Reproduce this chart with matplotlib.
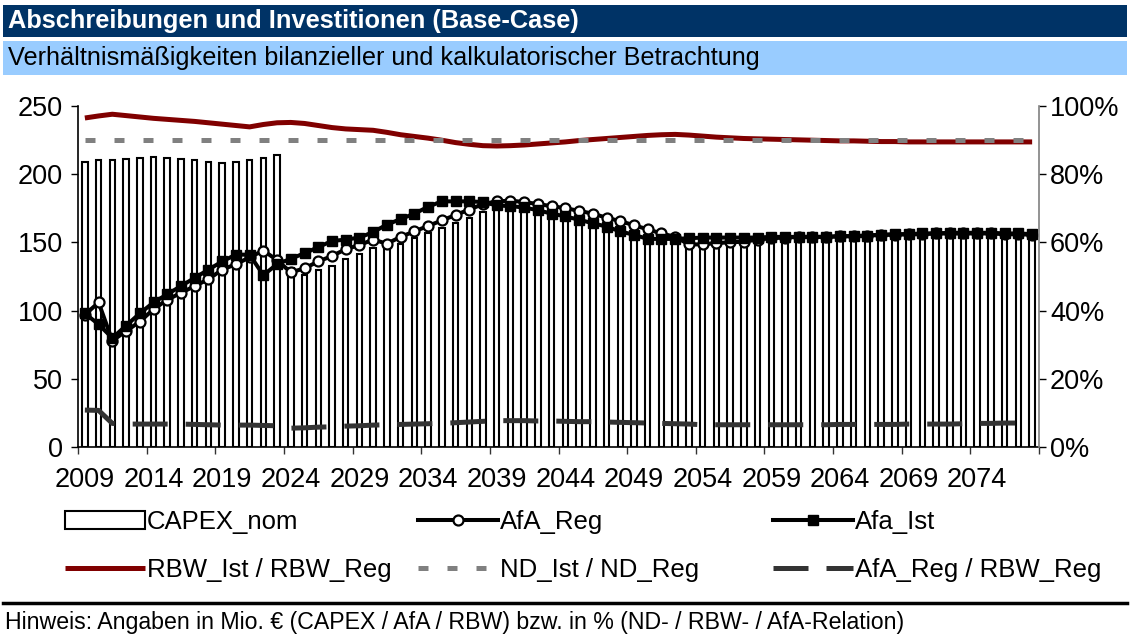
import numpy as np
import matplotlib.pyplot as plt
from matplotlib.patches import Rectangle
from matplotlib.lines import Line2D

plt.rcParams['font.family'] = ['Liberation Sans', 'DejaVu Sans']

# Jahre 2009 .. 2078
years = list(range(2009, 2079))

# CAPEX nominal (Mio. EUR)
capex_nom = [
    209, 210, 210.5, 211, 212, 212.5, 212, 211, 210, 209, 208, 209, 210.5, 212, 214,
    131, 126, 129.5, 133, 137.5, 141.5, 145.5, 145.5, 148.5, 153, 157, 160.5, 164.5, 168, 172,
    176, 177.5, 177, 176, 174, 171, 168.5, 166, 163, 160, 157, 154, 151, 149.5, 147,
    146.5, 147, 147.5, 148.5, 149.5, 150.5, 151, 151.5, 152, 152, 152.5, 153, 153, 153.5, 153.5,
    154, 154, 154.5, 154.5, 155, 155, 155, 155, 155, 155,
]

# AfA regulatorisch (Mio. EUR)
afa_reg = [
    97, 106, 78, 85, 92, 101, 108, 113, 118, 123, 130, 134, 139, 144, 137,
    128, 131, 136, 140, 145, 148, 152, 149, 154, 158, 162, 166, 170, 174, 178,
    180, 180.5, 179.5, 178, 176.5, 175, 173, 171, 168, 165.5, 162.5, 159.5, 156.5, 154, 148.5,
    148.5, 149.5, 150, 150.5, 152, 153, 153.5, 154, 154, 154, 154.5, 154.5, 155, 155.5, 155.5,
    156, 156, 156.5, 156.5, 156.5, 156.5, 156.5, 156, 156, 155.5,
]

# AfA Ist (Mio. EUR)
afa_ist = [
    98, 90, 80, 89, 98, 106, 112, 118, 124, 130, 136, 141, 141, 126, 134,
    138, 142, 146.5, 151, 152, 153.5, 157.5, 163, 167, 171, 176, 180, 180, 180, 179.5,
    177, 176.5, 175.5, 173.5, 171, 169, 166.5, 164, 161.5, 158, 155.5, 152.5, 152.5, 152.5, 153,
    153.5, 153.5, 153.5, 153.5, 153.5, 154, 154, 154, 154, 154, 154.5, 154.5, 155, 155.5, 156,
    156, 156.5, 156.5, 157, 157, 157, 157, 156.5, 156.5, 156,
]

# Relationen in %
rbw_ratio = [
    96.4, 97.0, 97.5, 97.1, 96.7, 96.3, 96.0, 95.7, 95.4, 95.0, 94.6, 94.2, 93.8, 94.5, 95.0,
    95.1, 94.8, 94.2, 93.6, 93.2, 93.0, 92.8, 92.2, 91.5, 91.0, 90.5, 89.9, 89.2, 88.7, 88.3,
    88.2, 88.3, 88.5, 88.8, 89.1, 89.4, 89.8, 90.1, 90.4, 90.7, 91.0, 91.3, 91.5, 91.6, 91.4,
    91.1, 90.8, 90.6, 90.4, 90.3, 90.2, 90.1, 90.0, 89.9, 89.8, 89.7, 89.7, 89.6, 89.5, 89.5,
    89.4, 89.4, 89.4, 89.4, 89.4, 89.4, 89.4, 89.4, 89.4, 89.4,
]

nd_ratio = [
    90, 90, 90, 90, 90, 90, 90, 90, 90, 90, 90, 90, 90, 90, 90,
    90, 90, 90, 90, 90, 90, 90, 90, 90, 90, 90, 90, 90, 90, 90,
    90, 90, 90, 90, 90, 90, 90, 90, 90, 90, 90, 90, 90, 90, 90,
    90, 90, 90, 90, 90, 90, 90, 90, 90, 90, 90, 90, 90, 90, 90,
    90, 90, 90, 90, 90, 90, 90, 90, 90, 90,
]

afa_rbw_ratio = [
    10.9, 10.8, 7.0, 6.8, 6.8, 6.8, 6.8, 6.8, 6.7, 6.6, 6.5, 6.5, 6.5, 6.4, 6.3,
    5.6, 5.7, 5.9, 6.0, 6.2, 6.3, 6.5, 6.6, 6.7, 6.8, 6.9, 7.0, 7.2, 7.4, 7.6,
    7.8, 7.8, 7.8, 7.7, 7.7, 7.6, 7.5, 7.5, 7.4, 7.3, 7.2, 7.1, 7.0, 6.9, 6.8,
    6.6, 6.6, 6.6, 6.6, 6.6, 6.6, 6.6, 6.6, 6.6, 6.6, 6.7, 6.7, 6.7, 6.7, 6.7,
    6.8, 6.8, 6.8, 6.8, 6.9, 7.0, 7.0, 7.1, 7.1, 7.1,
]

W, H = 1130, 634
fig = plt.figure(figsize=(W / 100, H / 100), dpi=100)


def fx(px):
    return px / W


def fy(py):
    return 1 - py / H


# Kopfzeilen
fig.add_artist(Rectangle((fx(3), fy(37)), fx(1124), 32 / H, transform=fig.transFigure,
                         facecolor='#003366', edgecolor='none'))
fig.add_artist(Rectangle((fx(3), fy(75)), fx(1124), 34 / H, transform=fig.transFigure,
                         facecolor='#99CCFF', edgecolor='none'))
fig.text(fx(8), fy(21), 'Abschreibungen und Investitionen (Base-Case)', color='white',
         fontsize=18.3, fontweight='bold', va='center', ha='left')
fig.text(fx(8), fy(58), 'Verhältnismäßigkeiten bilanzieller und kalkulatorischer Betrachtung',
         color='black', fontsize=18.2, va='center', ha='left')

# Fusszeile
fig.add_artist(Line2D([fx(3), fx(1127)], [fy(603), fy(603)], transform=fig.transFigure,
                      color='black', lw=2.5))
fig.text(fx(5), fy(622), 'Hinweis: Angaben in Mio. € (CAPEX / AfA / RBW) bzw. in % (ND- / RBW- / AfA-Relation)',
         fontsize=16.7, va='center', ha='left')

# Diagramm
ax = fig.add_axes([fx(78), fy(447.3), (1039 - 78) / W, (447.3 - 105.7) / H])
x = np.arange(len(years))

bars = ax.bar(x, capex_nom, width=0.4, color='white', edgecolor='black', linewidth=1.5,
              label='CAPEX_nom', zorder=2)
l_reg, = ax.plot(x, afa_reg, color='black', lw=2.9, marker='o', ms=7.2, mfc='white',
                 mec='black', mew=1.6, label='AfA_Reg', zorder=3)
l_ist, = ax.plot(x, afa_ist, color='black', lw=2.9, marker='s', ms=6.8, label='Afa_Ist', zorder=4)

ax.set_xlim(-0.5, len(years) - 0.5)
ax.set_ylim(0, 250)
ax.set_yticks(np.arange(0, 251, 50))
ax.set_xticks(np.arange(-0.5, len(years), 5))
ax.set_xticklabels([])
ax.set_xticks(np.arange(0, len(years), 5), minor=True)
ax.set_xticklabels([str(y) for y in years[::5]], minor=True)
ax.tick_params(axis='x', which='major', direction='out', length=5, width=1, color='#333333')
ax.tick_params(axis='x', which='minor', length=0, pad=14, labelsize=19.5)
ax.tick_params(axis='y', direction='out', length=5, width=1, pad=6, labelsize=19.5)
for s in ['top', 'right']:
    ax.spines[s].set_visible(False)
ax.spines['left'].set_linewidth(1.2)
ax.spines['bottom'].set_linewidth(1.2)

ax2 = ax.twinx()
l_rbw, = ax2.plot(x, rbw_ratio, color='#800000', lw=3.6, label='RBW_Ist / RBW_Reg',
                  solid_capstyle='butt')
l_nd, = ax2.plot(x, nd_ratio, color='#808080', lw=3.6, linestyle=(0, (2, 3.8)),
                 label='ND_Ist / ND_Reg', dash_capstyle='butt')
l_afarbw, = ax2.plot(x, afa_rbw_ratio, color='#333333', lw=3.6, linestyle=(0, (7, 3.6)),
                     label='AfA_Reg / RBW_Reg', dash_capstyle='butt')
ax2.set_ylim(0, 100)
ax2.set_yticks(np.arange(0, 101, 20))
ax2.set_yticklabels([f'{v}%' for v in range(0, 101, 20)])
ax2.tick_params(axis='y', direction='out', length=5, width=1, pad=3, labelsize=19.5)
for s in ['top', 'left', 'bottom']:
    ax2.spines[s].set_visible(False)
ax2.spines['right'].set_color('#808080')
ax2.spines['right'].set_linewidth(1.2)

# Legende in drei Spalten
columns = [
    (65, [bars, l_rbw]),
    (418, [l_reg, l_nd]),
    (773, [l_ist, l_afarbw]),
]
for left, handles in columns:
    fig.legend(handles=handles, labels=[h.get_label() for h in handles],
               loc='upper left', bbox_to_anchor=(fx(left), fy(510)),
               frameon=False, fontsize=18.5, borderpad=0, borderaxespad=0,
               handlelength=3.1, handletextpad=0.1, labelspacing=0.95, numpoints=1)

fig.savefig('out.png', dpi=100)
